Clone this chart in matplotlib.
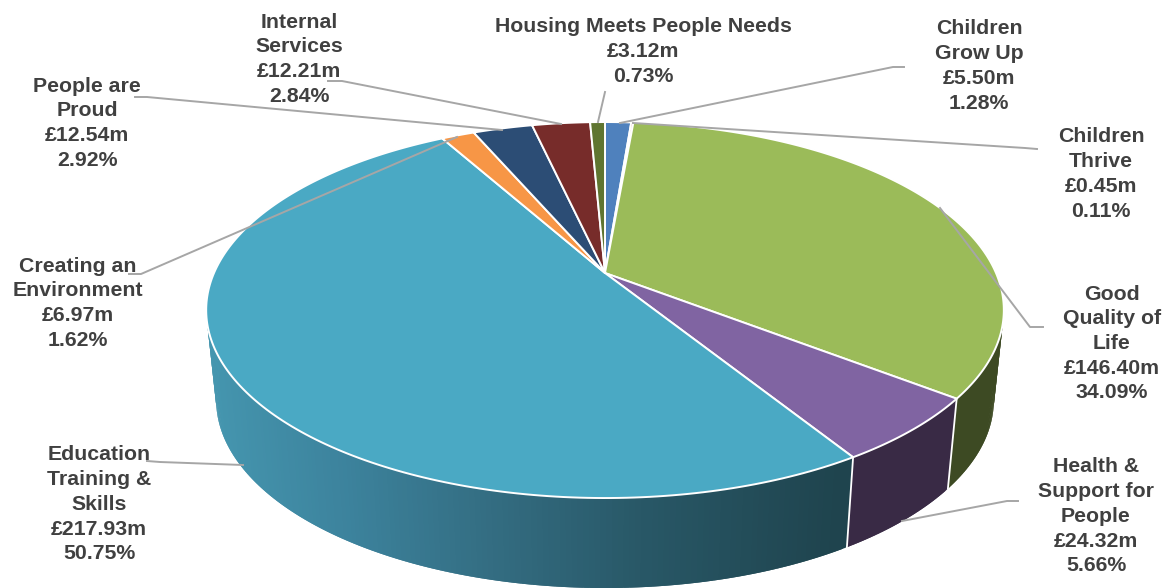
import matplotlib
matplotlib.use("Agg")
import matplotlib.pyplot as plt
import numpy as np

# ==================== Data ====================

names = ["Children\nGrow Up", "Children\nThrive", "Good\nQuality of\nLife",
         "Health &\nSupport for\nPeople", "Education\nTraining &\nSkills",
         "Creating an\nEnvironment", "People are\nProud", "Internal\nServices",
         "Housing Meets People Needs"]
spend = [5.50, 0.45, 146.40, 24.32, 217.93, 6.97, 12.54, 12.21, 3.12]
shares = [1.28, 0.11, 34.09, 5.66, 50.75, 1.62, 2.92, 2.84, 0.73]

top_colors = ["#4F81BD", "#C0504D", "#9BBB59", "#8064A2", "#4AA9C4",
              "#F79646", "#2C4D75", "#772C2A", "#5F7530"]
wall_colors = ["#2F4D71", "#73302E", "#3D4A23", "#392A45", None,
               "#945A2A", "#1A2E46", "#471A19", "#39461D"]

# teal side wall shades from left to right
wall_x = [206, 350, 500, 650, 840]
wall_r = [0x45, 0x3C, 0x33, 0x28, 0x1F]
wall_g = [0x96, 0x82, 0x6C, 0x57, 0x44]
wall_b = [0xAF, 0x9C, 0x80, 0x66, 0x4E]

# label centre x, first line y, then leader polyline
label_x = [979, 1101, 1112, 1096, 99, 78, 87, 299, 643]
label_y = [28, 136, 293, 466, 454, 265, 85, 21, 26]
leaders = [
    [(904, 67), (893, 67), (620, 123)],
    [(1037, 149), (1025, 148), (633, 123)],
    [(1043, 327), (1030, 327), (940, 208)],
    [(1018, 501), (1007, 501), (902, 521)],
    [(147, 461), (160, 462), (243, 465)],
    [(129, 274), (141, 274), (457, 137)],
    [(135, 97), (147, 97), (502, 130)],
    [(328, 81), (342, 81), (561, 124)],
    [(605, 92), (598, 122)],
]

# ==================== Projection ====================

CX, CY = 605, 273
RX, RY = 391, 180.7
PERSP = 0.197
DEPTH = 90
SHRINK = 0.975


def top_xy(theta):
    """Clockwise angle from 12 o'clock to pixel position on the top face."""
    s = 1 / (1 + PERSP * np.cos(theta))
    return CX + RX * np.sin(theta) * s, CY - RY * np.cos(theta) * s


def bottom_xy(theta):
    x, y = top_xy(theta)
    return CX + (x - CX) * SHRINK, y + DEPTH


def wall_color(i, x):
    if wall_colors[i] is not None:
        return wall_colors[i]
    return (np.interp(x, wall_x, wall_r) / 255,
            np.interp(x, wall_x, wall_g) / 255,
            np.interp(x, wall_x, wall_b) / 255)


# ==================== Chart ====================

plt.rcParams["font.family"] = ["Liberation Sans", "DejaVu Sans"]

fig = plt.figure(figsize=(11.66, 5.88), dpi=100)
ax = fig.add_axes([0, 0, 1, 1])
ax.set_xlim(0, 1166)
ax.set_ylim(588, 0)
ax.axis("off")

edges = np.concatenate([[0], np.cumsum(spend)]) / sum(spend) * 2 * np.pi

# side walls first, then the top face over them
# each strip runs on one step further so no gaps show between neighbours
STEP = 0.012
for i in range(len(spend)):
    a0, a1 = edges[i], edges[i + 1]
    grid = np.linspace(a0, a1, max(2, int((a1 - a0) / STEP)) + 1)
    for t0, t1 in zip(grid[:-1], grid[1:]):
        if np.cos((t0 + t1) / 2) > 0.35:
            continue
        t = np.linspace(t0, min(t1 + STEP, a1), 5)
        xt, yt = top_xy(t)
        xb, yb = bottom_xy(t)
        c = wall_color(i, xt[0])
        ax.fill(np.r_[xt, xb[::-1]], np.r_[yt, yb[::-1]], facecolor=c,
                edgecolor="none", zorder=2)

# white seams between the visible wall segments
for a in edges[3:5]:
    x0, y0 = top_xy(a)
    x1, y1 = bottom_xy(a)
    ax.plot([x0, x1], [y0, y1], color="white", lw=1.3, zorder=3)

for i in range(len(spend)):
    t = np.linspace(edges[i], edges[i + 1], 200)
    x, y = top_xy(t)
    ax.fill(np.r_[CX, x], np.r_[CY, y], facecolor=top_colors[i],
            edgecolor="white", lw=1.4, joinstyle="round", zorder=4)

for line in leaders:
    xs, ys = zip(*line)
    ax.plot(xs, ys, color="#A6A6A6", lw=1.4, zorder=5)

for i in range(len(names)):
    text = f"{names[i]}\n£{spend[i]:.2f}m\n{shares[i]:.2f}%"
    ax.text(label_x[i], label_y[i] - 8.5, text, ha="center", va="top",
            multialignment="center", fontsize=15.3, fontweight="bold",
            color="#404040", linespacing=1.38, zorder=6)

plt.savefig("out.png", dpi=100)
